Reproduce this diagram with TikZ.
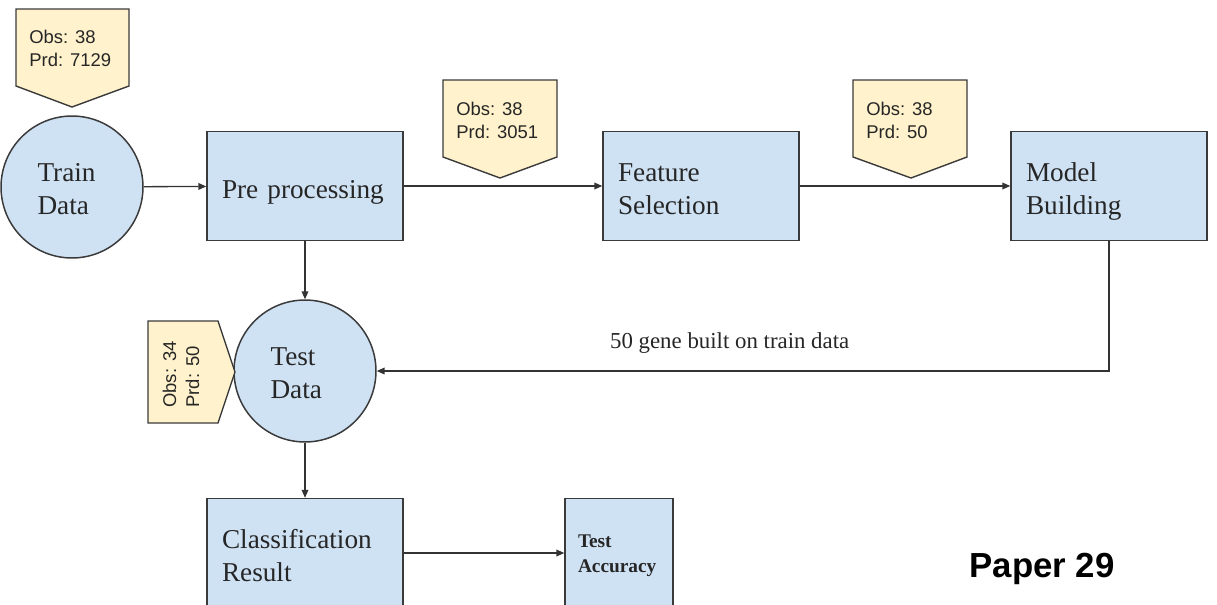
\documentclass[tikz,border=0pt]{standalone}
\usepackage{fontspec}
\setmainfont{Liberation Serif}
\setsansfont{Liberation Sans}
\usetikzlibrary{arrows.meta,positioning}

\definecolor{boxblue}{HTML}{CFE2F3}
\definecolor{tagyellow}{HTML}{FFF2CC}
\definecolor{edgegray}{HTML}{3A3A3A}

\begin{document}
\begin{tikzpicture}[
    x=0.02cm, y=-0.02cm,
    % fixed first-line height and last-line depth, so text sits alike in every box
    pad/.style 2 args={
        execute at begin node={\rule{0pt}{#1}},
        execute at end node={\rule[-#2]{0pt}{0pt}}
    },
    boxbase/.style={
        rectangle, draw=edgegray, line width=0.85pt, fill=boxblue,
        minimum height=2.18cm, align=left, text=black!85
    },
    box/.style={
        boxbase, inner xsep=0.3cm, text width=3.32cm,
        font=\fontsize{15.5}{18.5}\selectfont, pad={17.7pt}{4pt}
    },
    smallbox/.style={
        boxbase, inner xsep=0.26cm, text width=1.64cm,
        font=\bfseries\fontsize{11}{14.2}\selectfont, pad={10.7pt}{2.5pt}
    },
    datacircle/.style={
        circle, draw=edgegray, line width=0.85pt, fill=boxblue,
        minimum size=2.84cm, inner sep=0pt, text width=1.38cm, align=left,
        text=black!85, font=\fontsize{15.5}{18.5}\selectfont,
        pad={16.6pt}{4pt}
    },
    % yellow pentagon tags
    tag/.style={draw=edgegray, line width=0.8pt, fill=tagyellow},
    tagtext/.style={
        inner sep=0pt, align=left, text=black!85,
        font=\sffamily\fontsize{10.5}{13}\selectfont
    },
    flow/.style={
        -{Triangle[length=4.5pt,width=3.8pt]}, line width=0.75pt, black!80
    },
    lbl/.style={
        inner sep=0pt, text=black!85, font=\fontsize{13}{15}\selectfont
    }
]
\useasboundingbox (0,0) rectangle (1217,605);
\clip (0,0) rectangle (1217,605);

% === Nodes ===
\node[datacircle] (TrainData) at (72,187)  {Train\\Data};
\node[box]        (PreProc)   at (305,186) {Pre processing};
\node[box]        (FeatSel)   at (701,186) {Feature\\Selection};
\node[box]        (ModelBld)  at (1109,186) {Model\\Building};
\node[datacircle] (TestData)  at (305,371) {Test\\Data};
\node[box]        (ClassRes)  at (305,553) {Classification\\Result};
\node[smallbox]   (TestAcc)   at (619,553) {Test\\Accuracy};

% === Tags ===
\draw[tag] (16,9) -- (129,9) -- (129,86) -- (72,107) -- (16,86) -- cycle;
\node[tagtext, anchor=west] (TagTrain) at (29,48) {Obs: 38\\Prd: 7129};

\draw[tag] (443,80) -- (557,80) -- (557,157) -- (500,178) -- (443,157) -- cycle;
\node[tagtext, anchor=west] (TagPre) at (456,120) {Obs: 38\\Prd: 3051};

\draw[tag] (853,80) -- (967,80) -- (967,157) -- (911,178) -- (853,157) -- cycle;
\node[tagtext, anchor=west] (TagFeat) at (866,120) {Obs: 38\\Prd: 50};

\draw[tag] (148,321) -- (218,321) -- (235,372) -- (218,423) -- (148,423) -- cycle;
\node[tagtext, anchor=west, rotate=90] (TagTest) at (181,408) {Obs: 34\\Prd: 50};

% === Connectors ===
\draw[flow] (TrainData) -- (PreProc);
\draw[flow] (PreProc) -- (FeatSel);
\draw[flow] (FeatSel) -- (ModelBld);
\draw[flow] (PreProc) -- (TestData);
\draw[flow] (TestData) -- (ClassRes);
\draw[flow] (ClassRes) -- (TestAcc);
\draw[flow] (ModelBld.south) |- (TestData.east)
    node[lbl, pos=0.759, above=0.34cm] {50 gene built on train data};

% === Title ===
\node[font=\sffamily\bfseries\fontsize{19.8}{24}\selectfont, anchor=base] (Title)
    at (1042,577) {Paper 29};

\end{tikzpicture}
\end{document}
